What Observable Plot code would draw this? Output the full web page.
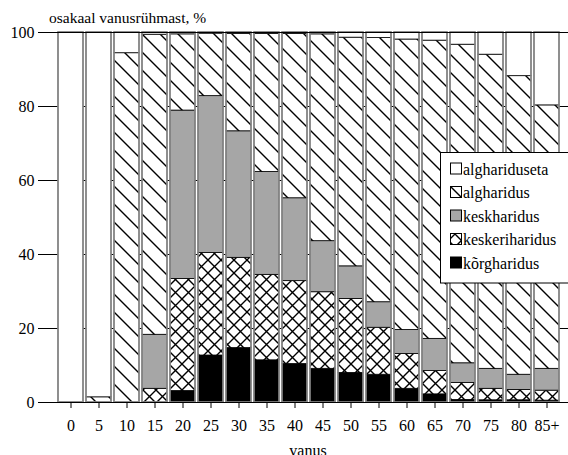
<!DOCTYPE html>
<html><head><meta charset="utf-8">
<script src="https://cdn.jsdelivr.net/npm/d3@7"></script>
<script src="https://cdn.jsdelivr.net/npm/@observablehq/plot@0.6"></script>
<style>body{margin:0;background:#fff} svg{display:block} #chart svg, #chart svg text{font-family:"Liberation Serif","Times New Roman",serif !important;}</style>
</head><body>
<svg width="0" height="0" style="position:absolute"><defs>
<pattern id="hatch" patternUnits="userSpaceOnUse" width="18" height="18">
<rect width="18" height="18" fill="white"/>
<path d="M-1,-1L19,19M-3,15L3,21M15,-3L21,3" stroke="black" stroke-width="1.4" fill="none"/>
</pattern>
<pattern id="cross" patternUnits="userSpaceOnUse" width="13" height="13">
<rect width="13" height="13" fill="white"/>
<path d="M-1,-1L14,14M14,-1L-1,14" stroke="black" stroke-width="1.4" fill="none"/>
</pattern>
</defs></svg>
<div id="chart"></div>
<script>
const ages = ["0","5","10","15","20","25","30","35","40","45","50","55","60","65","70","75","80","85+"];
const korgharidus    = [0,0,0,0,3.1,12.7,14.7,11.4,10.4,9.1,8.0,7.5,3.7,2.2,0.7,0.6,0.6,0.5];
const keskeriharidus = [0,0,0,3.7,30.3,27.7,24.4,23.1,22.4,20.7,20.0,12.7,9.4,6.3,4.6,3.1,2.8,2.7];
const keskharidus    = [0,0,0,14.6,45.5,42.4,34.2,27.8,22.4,13.8,8.8,6.9,6.5,8.7,5.3,5.4,4.1,5.9];
const algharidus     = [0,1.4,94.4,81.1,20.6,16.9,26.3,37.3,44.4,55.9,61.8,71.4,78.5,80.6,86.1,84.9,80.7,71.2];
const alghariduseta  = [100,98.6,5.6,0.6,0.5,0.3,0.4,0.4,0.4,0.5,1.4,1.5,1.9,2.2,3.3,6.0,11.8,19.7];
const yTicks = [0,20,40,60,80,100];
const titleText = "osakaal vanusrühmast, %";
const xLabel = "vanus";

const cats = ["kõrgharidus","keskeriharidus","keskharidus","algharidus","alghariduseta"];
const fills = ["black","url(#cross)","#a6a6a6","url(#hatch)","white"];
const series = [korgharidus, keskeriharidus, keskharidus, algharidus, alghariduseta];
const rows = ages.flatMap((a,i)=>cats.map((c,j)=>({age:a, cat:c, value:series[j][i]}))).filter(d=>d.value>0);
const totals = ages.map((a,i)=>({age:a, total:d3.sum(series, s=>s[i])}));

const font = "Liberation Serif";
const svg = Plot.plot({
  width:568, height:455,
  marginTop:32, marginBottom:53, marginLeft:49, marginRight:0,
  style:"font-family:'Liberation Serif',serif;font-size:16px;color:black;background:white;overflow:visible;",
  x:{type:"band", domain:ages, paddingInner:0.12, paddingOuter:0.07, label:null},
  y:{domain:[0,100], label:null},
  color:{type:"ordinal", domain:cats, range:fills},
  marks:[
    Plot.ruleY(yTicks.filter(v=>v>0 && v<100), {stroke:"black", strokeWidth:1}),
    Plot.barY(rows, {x:"age", y:"value", fill:"cat", stroke:"black", strokeWidth:0.8}),
    Plot.barY(totals, {x:"age", y:"total", fill:"none", stroke:"#8c8c8c", strokeWidth:1.6}),
    Plot.ruleY([0,100], {stroke:"black", strokeWidth:1.2}),
    Plot.axisY({ticks:yTicks, tickSize:11, tickPadding:4, label:null}),
    Plot.axisX({tickSize:6, tickPadding:11, label:null})
  ]
});
const s = d3.select(svg);
s.append("text").attr("x",49).attr("y",23).attr("text-anchor","start").attr("font-size",15.5).attr("fill","black").text(titleText);
s.append("text").attr("x",308).attr("y",456).attr("text-anchor","middle").attr("font-size",16).attr("fill","black").text(xLabel);
const lg = s.append("g").attr("text-anchor","start");
lg.append("rect").attr("x",440.5).attr("y",152.5).attr("width",140).attr("height",130.5).attr("fill","white").attr("stroke","black");
const legendOrder = [4,3,2,1,0];
legendOrder.forEach((j,i)=>{
  const b = 174.5 + i*23.5;
  const x0 = 450.5, y0 = b-11.5, w = 11;
  if (cats[j] === "algharidus") {
    lg.append("rect").attr("x",x0).attr("y",y0).attr("width",w).attr("height",w).attr("fill","white").attr("stroke","none");
    lg.append("line").attr("x1",x0).attr("y1",y0).attr("x2",x0+w).attr("y2",y0+w).attr("stroke","black").attr("stroke-width",1.4);
    lg.append("rect").attr("x",x0).attr("y",y0).attr("width",w).attr("height",w).attr("fill","none").attr("stroke","black");
  } else {
    lg.append("rect").attr("x",x0).attr("y",y0).attr("width",w).attr("height",w).attr("fill",fills[j]).attr("stroke","black");
  }
  lg.append("text").attr("x",463).attr("y",b).attr("text-anchor","start").attr("font-size",16).attr("fill","black").text(cats[j]);
});
s.selectAll("text").attr("font-family", font);
document.getElementById("chart").appendChild(svg);
</script>
</body></html>
